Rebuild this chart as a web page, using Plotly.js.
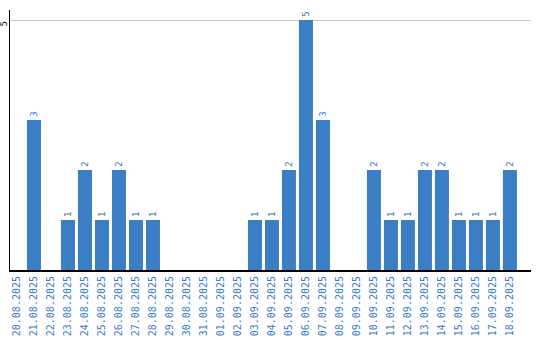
<!DOCTYPE html>
<html>
<head>
<meta charset="utf-8">
<script src="https://cdn.plot.ly/plotly-3.0.1.min.js"></script>
<style>html,body{margin:0;padding:0;background:#fff;}#chart{width:540px;height:340px;}</style>
</head>
<body>
<div id="chart"></div>
<script>
const dates = ["20.08.2025","21.08.2025","22.08.2025","23.08.2025","24.08.2025","25.08.2025","26.08.2025","27.08.2025","28.08.2025","29.08.2025","30.08.2025","31.08.2025","01.09.2025","02.09.2025","03.09.2025","04.09.2025","05.09.2025","06.09.2025","07.09.2025","08.09.2025","09.09.2025","10.09.2025","11.09.2025","12.09.2025","13.09.2025","14.09.2025","15.09.2025","16.09.2025","17.09.2025","18.09.2025"];
const counts = [0,3,0,1,2,1,2,1,1,0,0,0,0,0,1,1,2,5,3,0,0,2,1,1,2,2,1,1,1,2];
const yTicks = [5];

const blue = '#3a7ec4';
const labels = counts.map(v => v ? String(v) : '');

Plotly.newPlot('chart', [{
  type: 'bar',
  x: dates,
  y: counts,
  text: labels,
  textposition: 'outside',
  textangle: -90,
  cliponaxis: false,
  constraintext: 'none',
  textfont: {family: 'DejaVu Sans', size: 9, color: blue},
  marker: {color: blue},
  hoverinfo: 'none'
}], {
  width: 540, height: 340,
  margin: {l: 10, r: 9, t: 10, b: 70, pad: 0},
  paper_bgcolor: '#fff', plot_bgcolor: '#fff',
  showlegend: false,
  bargap: 0.176,
  xaxis: {
    type: 'category',
    range: [-0.41, 30.24],
    tickangle: -90,
    tickfont: {family: 'DejaVu Sans Mono', size: 10, color: blue},
    showline: true, linecolor: '#000', linewidth: 2,
    showgrid: false, ticks: '', fixedrange: true
  },
  yaxis: {
    range: [0, 5.2],
    tickvals: yTicks,
    ticktext: yTicks.map(String),
    tickangle: -90,
    ticklabelshift: 5,
    ticklabelstandoff: -1,
    tickfont: {family: 'DejaVu Sans', size: 8, color: '#000'},
    showline: true, linecolor: '#000', linewidth: 1,
    showgrid: true, gridcolor: '#c8c8c8', gridwidth: 1,
    zeroline: false, ticks: '', fixedrange: true
  }
}, {displayModeBar: false, staticPlot: true});
</script>
</body>
</html>
